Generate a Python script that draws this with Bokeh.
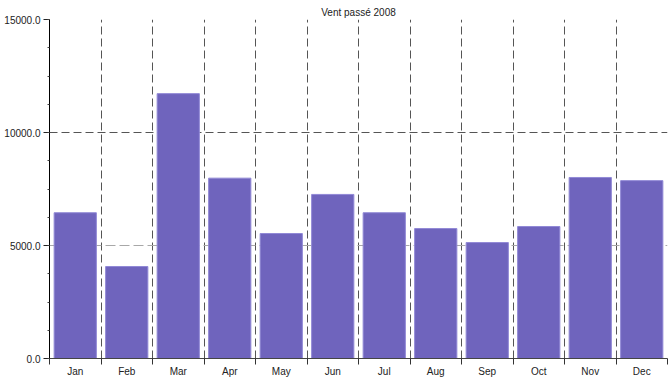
from bokeh.plotting import figure
from bokeh.models import FixedTicker, NumeralTickFormatter, Range1d, Grid, ColumnDataSource
from bokeh.embed import file_html
from bokeh.resources import INLINE

title = "Vent passé 2008"
months = ["Jan", "Feb", "Mar", "Apr", "May", "Jun", "Jul", "Aug", "Sep", "Oct", "Nov", "Dec"]
values = [6450, 4070, 11720, 7980, 5530, 7260, 6450, 5750, 5130, 5840, 8010, 7870]
y_ticks = [0, 5000, 10000, 15000]

pos = [i + 0.5 for i in range(len(months))]
src = ColumnDataSource(dict(x=pos, top=values, month=months))

FONT = "Liberation Sans"
p = figure(width=670, height=380, output_backend="svg", toolbar_location=None,
           x_range=Range1d(0, len(months)), y_range=Range1d(0, 15000),
           min_border_left=49, min_border_right=3, min_border_top=19, min_border_bottom=22,
           title=title)
p.title.text_font = FONT
p.title.text_font_size = "10px"
p.title.text_font_style = "normal"
p.title.text_color = "#222222"
p.title.align = "center"
p.title.standoff = 4
p.title.offset = 0
p.outline_line_color = None
p.background_fill_color = "white"
p.border_fill_color = "white"

p.vbar(x="x", top="top", width=0.82, bottom=0, source=src,
       fill_color="#6f64bd", line_color="#9189d6", line_width=1)

# grids
p.xgrid.ticker = FixedTicker(ticks=list(range(len(months) + 1)))
p.xgrid.grid_line_color = "#555555"
p.xgrid.grid_line_dash = "8 4"
p.ygrid.ticker = FixedTicker(ticks=y_ticks[2:])
p.ygrid.grid_line_color = "#555555"
p.ygrid.grid_line_dash = "8 4"
g2 = Grid(dimension=1, ticker=FixedTicker(ticks=y_ticks[1:2]), grid_line_color="#a8a8a8", grid_line_dash="10 4")
p.add_layout(g2)

# x axis
xa = p.xaxis[0]
xa.ticker = FixedTicker(ticks=pos, minor_ticks=list(range(len(months) + 1)))
xa.major_label_overrides = {p_: m for p_, m in zip(pos, months)}
xa.major_tick_line_color = None
xa.major_tick_out = 0
xa.major_tick_in = 0
xa.minor_tick_out = 6
xa.minor_tick_in = 0
xa.minor_tick_line_color = "#333333"
xa.axis_line_color = "#444444"
xa.major_label_standoff = 1
xa.major_label_text_font = FONT
xa.major_label_text_font_size = "10px"
xa.major_label_text_color = "#222222"

# y axis
ya = p.yaxis[0]
ya.ticker = FixedTicker(ticks=y_ticks, minor_ticks=[i * 1250 for i in range(13)])
ya.formatter = NumeralTickFormatter(format="0.0")
ya.major_tick_out = 6
ya.major_tick_in = 0
ya.minor_tick_out = 2
ya.minor_tick_in = 0
ya.axis_line_color = "black"
ya.major_tick_line_color = "#222222"
ya.minor_tick_line_color = "#444444"
ya.major_label_standoff = 3
ya.major_label_text_font = FONT
ya.major_label_text_font_size = "10px"
ya.major_label_text_color = "#222222"

open("out.html", "w").write(file_html(p, INLINE))
